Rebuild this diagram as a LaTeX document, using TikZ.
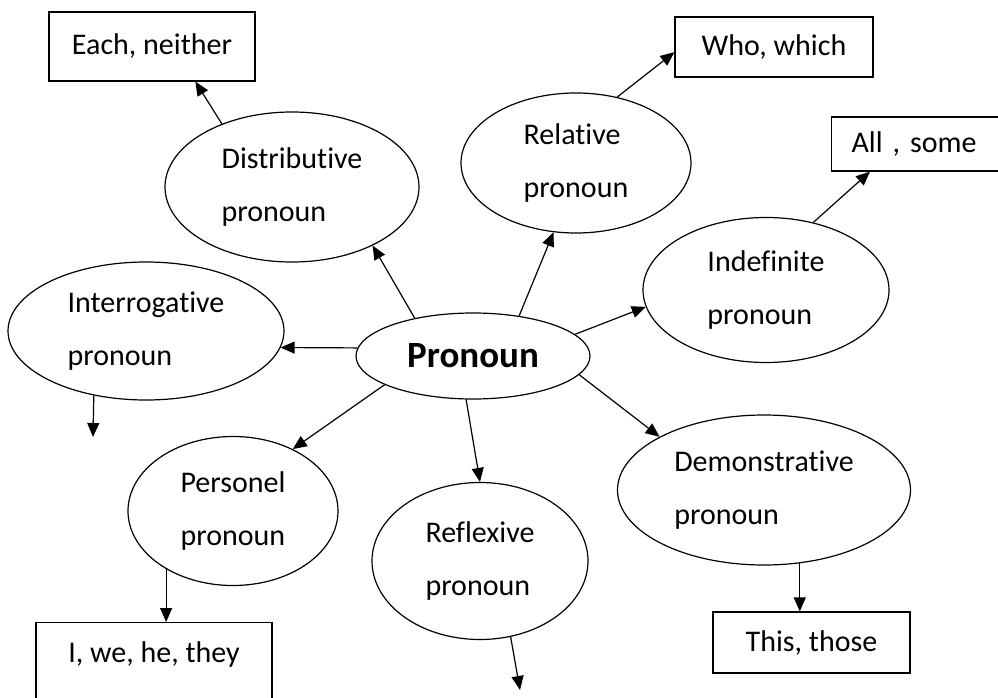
\documentclass[tikz,border=0pt]{standalone}
\usepackage{fontspec}
\setmainfont{Carlito}[Ligatures=NoCommon]
\usetikzlibrary{shapes,
	arrows.meta}

\begin{document}
\begin{tikzpicture}[x=1pt, y=-1pt,
	kind/.style={ellipse, draw, line width=1.2pt, inner sep=0pt, align=left, font=\fontsize{30}{53}\selectfont},
	word/.style={rectangle, draw, line width=1.2pt, font=\fontsize{30}{34}\selectfont},
	link/.style={line width=1.2pt, -{Triangle[length=14pt, width=12pt]}}]
	\useasboundingbox (0, 0) rectangle (998, 698);
	\clip (0, 0) rectangle (998, 698);
	% the centre and its kinds
	\node[kind, minimum width=234pt, minimum height=86pt, font=\fontsize{37}{40}\selectfont\bfseries] (pron) at (473, 356) {Pronoun};
	\node[kind, minimum width=254pt, minimum height=150pt] (distr) at (292, 187) {Distributive\\pronoun};
	\node[kind, minimum width=230pt, minimum height=140pt] (rel) at (576, 163) {Relative\\pronoun};
	\node[kind, minimum width=246pt, minimum height=145pt] (indef) at (766, 290) {Indefinite\\pronoun};
	\node[kind, minimum width=276pt, minimum height=138pt] (inter) at (146, 331) {Interrogative\\pronoun};
	\node[kind, minimum width=210pt, minimum height=149pt] (pers) at (233, 511) {Personel\\pronoun};
	\node[kind, minimum width=216pt, minimum height=157pt] (refl) at (480, 561) {Reflexive\\pronoun};
	\node[kind, minimum width=293pt, minimum height=150pt] (demo) at (764, 490) {Demonstrative\\pronoun};
	% examples
	\node[word, minimum width=206pt, minimum height=69pt] (each) at (152, 46.5) {Each, neither};
	\node[word, minimum width=198pt, minimum height=60pt] (who) at (774, 47) {Who, which};
	\node[word, anchor=west, text width=150pt, align=left, inner xsep=20pt, minimum height=54pt] (all) at (831, 144) {All , some};
	\node[word, anchor=north, minimum width=236pt, inner ysep=0pt, text height=40pt, text depth=100pt] (iwe) at (154, 622) {I, we, he, they};
	\node[word, minimum width=197pt, minimum height=61pt] (this) at (811.5, 642.5) {This, those};
	\coordinate (interEnd) at (93, 437);
	\coordinate (reflEnd) at (520, 690);
	% arrows
	\draw[link] (pron.176) -- (inter.-7);
	\draw[link] (pron.147) -- (distr.-36);
	\draw[link] (pron.41) -- (rel.-108);
	\draw[link] (pron.12) -- (indef.188);
	\draw[link] (pron.198) -- (pers.46);
	\draw[link] (pron.261) -- (refl.90);
	\draw[link] (pron.-10) -- (demo.153);
	\draw[link] (distr.138) -- (each.-39);
	\draw[link] (rel.58) -- (who.183);
	\draw[link] (indef.55) -- (all.206);
	\draw[link] (inter.231) -- (interEnd);
	\draw[link] (pers.221) -- (pers.221 |- iwe.north);
	\draw[link] (refl.292) -- (reflEnd);
	\draw[link] (demo.296) -- (demo.296 |- this.north);
\end{tikzpicture}
\end{document}
